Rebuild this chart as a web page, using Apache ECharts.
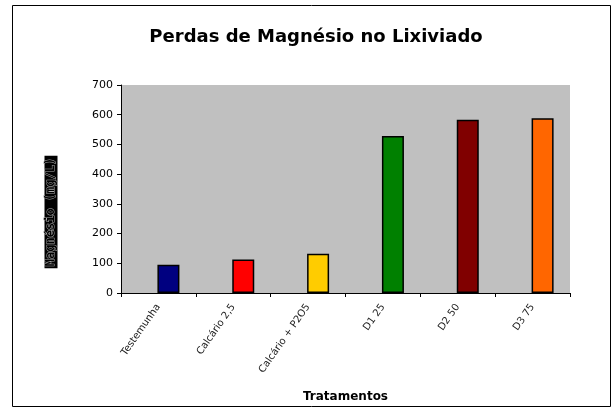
<!DOCTYPE html>
<html>
<head>
<meta charset="utf-8">
<script src="https://cdn.jsdelivr.net/npm/echarts@6/dist/echarts.min.js"></script>
<style>
  html, body { margin: 0; padding: 0; background: #fff; }
  #main { width: 612px; height: 408px; }
</style>
</head>
<body>
<div id="main"></div>
<script>
// dados
var tratamentos = ['Testemunha', 'Calcário 2,5', 'Calcário + P2O5', 'D1 25', 'D2 50', 'D3 75'];
var magnesio = [95, 113, 132, 528, 583, 588];
var vazio = ['-', '-', '-', '-', '-', '-'];
var cores = ['#000080', '#ff0000', '#ffcc00', '#008000', '#800000', '#ff6600'];
var yTicks = [0, 100, 200, 300, 400, 500, 600, 700];

var chart = echarts.init(document.getElementById('main'));

var option = {
  animation: false,
  title: {
    text: 'Perdas de Magnésio no Lixiviado',
    left: 311,
    top: 23,
    textAlign: 'center',
    textStyle: { fontFamily: 'DejaVu Sans', fontSize: 18, fontWeight: 'bold', color: '#000' }
  },
  graphic: [
    {
      type: 'rect',
      shape: { x: 12.5, y: 5.5, width: 598, height: 401 },
      style: { fill: 'none', stroke: '#000', lineWidth: 1 },
      z: -1
    },
    {
      // rótulo do eixo y (caixa preta)
      type: 'text',
      x: 51,
      y: 212,
      rotation: Math.PI / 2,
      style: {
        text: 'Magnésio (mg/L)',
        fontFamily: 'DejaVu Sans Mono',
        fontSize: 12,
        fontWeight: 'bold',
        fill: '#000',
        stroke: '#aaa',
        lineWidth: 1,
        align: 'center',
        verticalAlign: 'middle',
        backgroundColor: '#000',
        padding: [1, 2, 0, 2]
      }
    }
  ],
  grid: { left: 121, right: 42, top: 85, bottom: 114, show: true, backgroundColor: '#c0c0c0', borderWidth: 0 },
  xAxis: {
    type: 'category',
    data: tratamentos,
    name: 'Tratamentos',
    nameLocation: 'middle',
    nameGap: 98,
    nameTextStyle: { fontFamily: 'DejaVu Sans', fontSize: 12, fontWeight: 'bold', color: '#000' },
    axisLine: { lineStyle: { color: '#000', width: 1 } },
    axisTick: { show: true, length: 4, lineStyle: { color: '#000' } },
    axisLabel: { rotate: 55, fontFamily: 'DejaVu Sans', fontSize: 10, color: '#222', margin: 12 },
    splitLine: { show: false }
  },
  yAxis: {
    type: 'value',
    min: 0,
    max: yTicks[yTicks.length - 1],
    interval: 100,
    axisLine: { show: true, lineStyle: { color: '#000', width: 1 } },
    axisTick: { show: true, length: 4, lineStyle: { color: '#000' } },
    axisLabel: { fontFamily: 'DejaVu Sans', fontSize: 11, color: '#000', margin: 8 },
    splitLine: { show: false }
  },
  series: [
    {
      // série vazia, como no gráfico original (desloca as barras)
      type: 'bar',
      barWidth: 22,
      barGap: '-9%',
      data: vazio
    },
    {
      type: 'bar',
      barWidth: 22,
      barGap: '-9%',
      data: magnesio.map(function (v, i) {
        return { value: v, itemStyle: { color: cores[i], borderColor: '#000', borderWidth: 1.5 } };
      })
    }
  ]
};

chart.setOption(option);
</script>
</body>
</html>
